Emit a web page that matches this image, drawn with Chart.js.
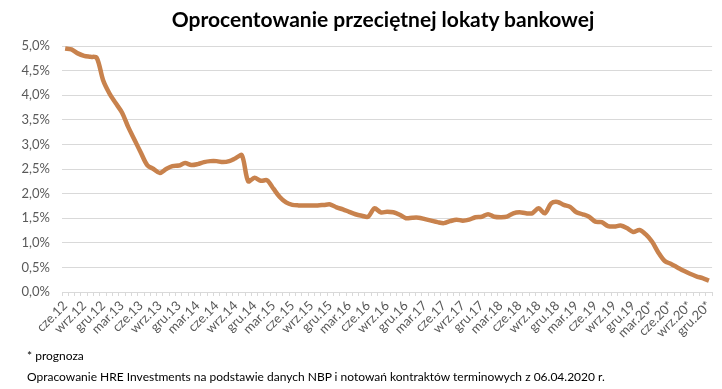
<!DOCTYPE html>
<html>
<head>
<meta charset="utf-8">
<script src="https://cdn.jsdelivr.net/npm/chart.js@4"></script>
<style>
    html, body { margin: 0; padding: 0; background: #fff; }
    #wrap { position: relative; width: 722px; height: 389px; font-family: Lato, "Open Sans", sans-serif; color: #000; }
    #title { position: absolute; left: 0; width: 766px; top: 6px; text-align: center; font-size: 21px; font-weight: bold; }
    #note1 { position: absolute; left: 27px; top: 348px; font-size: 12px; }
    #note2 { position: absolute; left: 27px; top: 369px; font-size: 12px; }
    canvas { position: absolute; left: 0; top: 0; }
</style>
</head>
<body>
<div id="wrap">
    <canvas id="chart" width="722" height="389"></canvas>
    <div id="title">Oprocentowanie przeciętnej lokaty bankowej</div>
    <div id="note1">* prognoza</div>
    <div id="note2">Opracowanie HRE Investments na podstawie danych NBP i notowań kontraktów terminowych z 06.04.2020 r.</div>
</div>
<script>
// labels shown every 3 months (cze.12 ... gru.20*)
const tickLabels = [
    "cze.12", "wrz.12", "gru.12", "mar.13", "cze.13", "wrz.13", "gru.13",
    "mar.14", "cze.14", "wrz.14", "gru.14", "mar.15", "cze.15", "wrz.15", "gru.15",
    "mar.16", "cze.16", "wrz.16", "gru.16", "mar.17", "cze.17", "wrz.17", "gru.17",
    "mar.18", "cze.18", "wrz.18", "gru.18", "mar.19", "cze.19", "wrz.19", "gru.19",
    "mar.20*", "cze.20*", "wrz.20*", "gru.20*"
];

// average deposit rate, %, monthly from June 2012 to Dec 2020
const rates = [
    4.95, 4.93, 4.85, 4.80, 4.78, 4.76, 4.31, 4.04, 3.84, 3.65,
    3.35, 3.09, 2.83, 2.58, 2.50, 2.42, 2.50, 2.56, 2.57, 2.62,
    2.58, 2.60, 2.64, 2.66, 2.66, 2.64, 2.66, 2.72, 2.78, 2.25,
    2.32, 2.26, 2.27, 2.10, 1.93, 1.82, 1.77, 1.76, 1.76, 1.76,
    1.76, 1.77, 1.78, 1.72, 1.68, 1.63, 1.58, 1.55, 1.53, 1.70,
    1.62, 1.63, 1.62, 1.57, 1.50, 1.51, 1.51, 1.48, 1.45, 1.42,
    1.40, 1.44, 1.47, 1.45, 1.47, 1.52, 1.53, 1.58, 1.53, 1.52,
    1.53, 1.60, 1.62, 1.60, 1.60, 1.70, 1.60, 1.80, 1.83, 1.77,
    1.73, 1.62, 1.58, 1.53, 1.43, 1.42, 1.34, 1.33, 1.35, 1.30,
    1.22, 1.26, 1.17, 1.02, 0.80, 0.63, 0.57, 0.50, 0.43, 0.37,
    0.32, 0.28, 0.23
];

const categories = rates.map((v, i) => (i % 3 === 0 ? tickLabels[i / 3] : ""));

const ctx = document.getElementById("chart").getContext("2d");
new Chart(ctx, {
    type: "line",
    data: {
        labels: categories,
        datasets: [{
            data: rates,
            borderColor: "#c8824d",
            borderWidth: 4.5,
            pointRadius: 0,
            tension: 0.3,
            fill: false
        }]
    },
    options: {
        responsive: false,
        animation: false,
        layout: { padding: { top: 46, right: 6, bottom: 49, left: 0 } },
        plugins: { legend: { display: false }, title: { display: false }, tooltip: { enabled: false } },
        scales: {
            x: {
                offset: true,
                grid: { drawOnChartArea: false, drawTicks: true, tickLength: 4, offset: true, color: "#d9d9d9" },
                border: { display: true, color: "#d9d9d9" },
                ticks: {
                    autoSkip: false,
                    minRotation: 45,
                    maxRotation: 45,
                    padding: 2,
                    color: "#595959",
                    font: { family: "Lato", size: 13 }
                },
                afterFit: function (axis) { axis.height = 48; }
            },
            y: {
                min: 0,
                max: 5,
                grid: { color: "#d9d9d9", drawTicks: false },
                border: { display: false },
                ticks: {
                    stepSize: 0.5,
                    padding: 12,
                    color: "#595959",
                    font: { family: "Lato", size: 13 },
                    callback: v => v.toFixed(1).replace(".", ",") + "%"
                },
                afterFit: function (axis) { axis.width = 62; }
            }
        }
    }
});
</script>
</body>
</html>
